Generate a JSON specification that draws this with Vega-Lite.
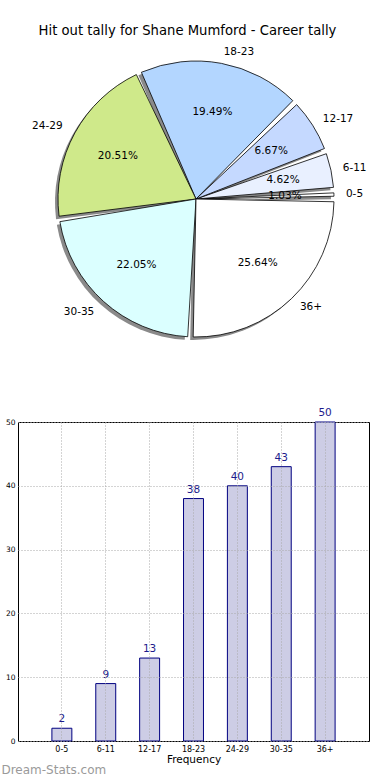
{
  "$schema": "https://vega.github.io/schema/vega-lite/v6.json",
  "padding": {"left": 0, "top": 23, "right": 0, "bottom": 0},
  "background": "white",
  "title": {"text": "Hit out tally for Shane Mumford - Career tally", "fontSize": 13.2, "fontWeight": "normal", "font": "DejaVu Sans", "color": "black", "anchor": "middle", "offset": 6},
  "datasets": {
    "tally": [
      {"label": "0-5", "count": 2, "pct": "1.03%", "i": 0},
      {"label": "6-11", "count": 9, "pct": "4.62%", "i": 1},
      {"label": "12-17", "count": 13, "pct": "6.67%", "i": 2},
      {"label": "18-23", "count": 38, "pct": "19.49%", "i": 3},
      {"label": "24-29", "count": 40, "pct": "20.51%", "i": 4},
      {"label": "30-35", "count": 43, "pct": "22.05%", "i": 5},
      {"label": "36+", "count": 50, "pct": "25.64%", "i": 6}
    ]
  },
  "config": {"view": {"stroke": "black", "strokeWidth": 1}, "font": "DejaVu Sans"},
  "spacing": 68,
  "bounds": "flush",
  "vconcat": [
    {
      "width": 356,
      "height": 310,
      "view": {"stroke": null},
      "data": {"name": "tally"},
      "encoding": {
        "theta": {"field": "count", "type": "quantitative", "stack": true, "scale": {"range": [1.5708, -4.7124]}},
        "order": {"field": "i", "type": "quantitative"}
      },
      "layer": [
        {"mark": {"type": "arc", "outerRadius": 138, "padAngle": 0.04, "fill": "#8a8a8a", "xOffset": -3, "yOffset": 3}},
        {
          "mark": {"type": "arc", "outerRadius": 138, "padAngle": 0.04, "stroke": "black", "strokeWidth": 0.8},
          "encoding": {
            "color": {
              "field": "label", "type": "nominal", "sort": null,
              "scale": {
                "domain": ["0-5", "6-11", "12-17", "18-23", "24-29", "30-35", "36+"],
                "range": ["#ffffff", "#e9f0ff", "#c5d9ff", "#b3d6ff", "#cfe98a", "#dbffff", "#ffffff"]
              },
              "legend": null
            }
          }
        },
        {
          "mark": {"type": "text", "radius": 89, "fontSize": 10.5, "color": "black"},
          "encoding": {"text": {"field": "pct", "type": "nominal"}}
        },
        {
          "mark": {"type": "text", "radius": 150, "fontSize": 10.5, "color": "black", "align": "left"},
          "encoding": {"text": {"condition": {"test": "datum.label === '24-29' || datum.label === '30-35'", "value": ""}, "field": "label", "type": "nominal"}}
        },
        {
          "mark": {"type": "text", "radius": 152, "fontSize": 10.5, "color": "black", "align": "right"},
          "encoding": {"text": {"condition": {"test": "datum.label !== '24-29' && datum.label !== '30-35'", "value": ""}, "field": "label", "type": "nominal"}}
        }
      ]
    },
    {
      "width": 351,
      "height": 319,
      "data": {"name": "tally"},
      "title": {"text": "Dream-Stats.com", "orient": "bottom", "anchor": "start", "fontSize": 12, "fontWeight": "normal", "color": "#9a9a9a", "offset": 0, "dx": -4},
      "encoding": {
        "x": {
          "field": "label", "type": "nominal", "sort": null,
          "scale": {"paddingInner": 0, "paddingOuter": 0.5},
          "axis": {"title": "Frequency", "labelAngle": 0, "labelFontSize": 8, "labelColor": "black", "titleFontSize": 10.5, "titleFontWeight": "normal", "titleColor": "black", "ticks": false, "labelPadding": 4, "titlePadding": 1, "domain": false, "grid": true, "gridDash": [1, 2], "gridColor": "#a8a8a8", "bandPosition": 0.5, "zindex": 1}
        },
        "y": {
          "field": "count", "type": "quantitative",
          "scale": {"domain": [0, 50]},
          "axis": {"title": null, "values": [0, 10, 20, 30, 40, 50], "labelFontSize": 7.5, "labelColor": "black", "ticks": false, "labelPadding": 3, "domain": false, "grid": true, "gridDash": [1, 2], "gridColor": "#a8a8a8", "zindex": 1}
        }
      },
      "layer": [
        {"mark": {"type": "bar", "width": {"band": 0.455}, "fill": "#cdcde5", "stroke": "#000080", "strokeWidth": 1}},
        {"mark": {"type": "text", "dy": -9, "fontSize": 10.5, "color": "#1c1c8c"}, "encoding": {"text": {"field": "count", "type": "quantitative"}}}
      ]
    }
  ]
}
